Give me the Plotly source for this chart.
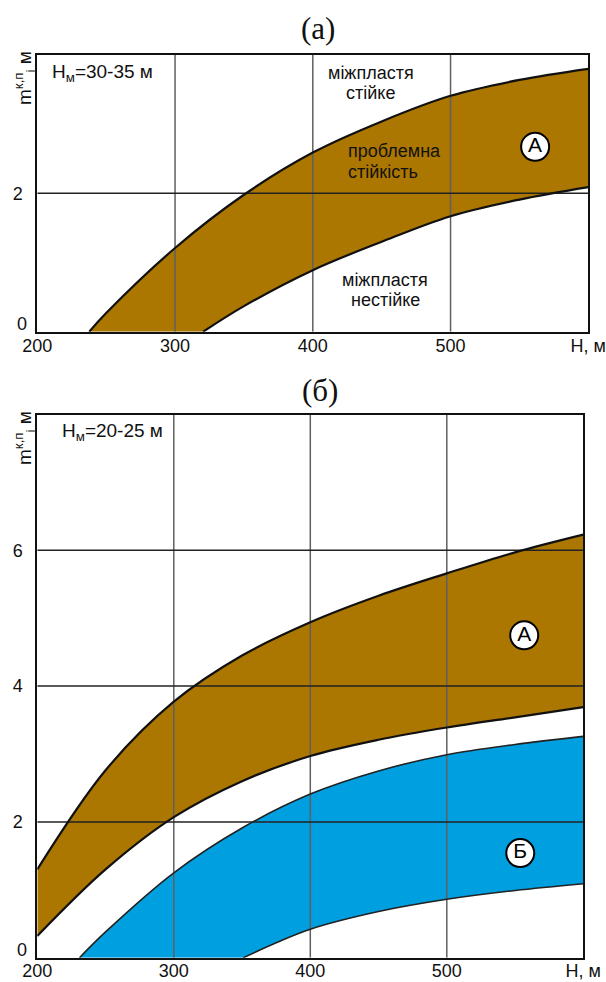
import plotly.graph_objects as go

# ---------------- data ----------------
# panel (a): H_m = 30-35 m
a_upper_h = [237.7, 250, 300, 350, 400, 450, 500, 550, 600]
a_upper_m = [0, 0.27, 1.21, 1.98, 2.59, 3.04, 3.41, 3.64, 3.80]
a_lower_h = [320.4, 350, 400, 450, 500, 550, 600]
a_lower_m = [0, 0.37, 0.89, 1.30, 1.67, 1.91, 2.09]

# panel (b): H_m = 20-25 m
b_A_upper_h = [200, 250, 300, 350, 400, 450, 500, 550, 600]
b_A_upper_m = [1.30, 2.76, 3.77, 4.45, 4.94, 5.33, 5.66, 5.97, 6.23]
b_A_lower_h = [200, 250, 300, 350, 400, 450, 500, 550, 600]
b_A_lower_m = [0.32, 1.30, 2.07, 2.60, 2.97, 3.21, 3.39, 3.54, 3.69]
b_B_upper_h = [230.9, 250, 300, 350, 400, 450, 500, 550, 600]
b_B_upper_m = [0, 0.38, 1.25, 1.91, 2.41, 2.75, 2.99, 3.14, 3.26]
b_B_lower_h = [351, 375, 400, 450, 500, 550, 600]
b_B_lower_m = [0, 0.22, 0.42, 0.68, 0.86, 0.99, 1.09]

x_range = [200, 600]
a_y_range = [0, 4]
b_y_range = [0, 8]
x_tickvals = [200, 300, 400, 500, 600]
x_ticktext = ["200", "300", "400", "500", "H, м"]
x_grid = [300, 400, 500]
a_y_ticks = [2]
a_y_grid = [2]
b_y_ticks = [2, 4, 6]
b_y_grid = [2, 4, 6]

# zone labels (panel a)
a_zone_text = ["міжпластя", "стійке", "міжпластя", "нестійке"]
a_zone_h = [442.0, 442.0, 452.5, 452.5]
a_zone_m = [3.734, 3.445, 0.747, 0.458]
a_mid_text = ["проблемна", "стійкість"]
a_mid_h = [424.0, 424.0]
a_mid_m = [2.616, 2.312]

# circled markers
a_circle_text = ["А"]
a_circle_h = [561.4]
a_circle_m = [2.673]
b_circle_text = ["А", "Б"]
b_circle_h = [556.7, 553.8]
b_circle_m = [4.748, 1.541]

BROWN = "#AC7700"
BLUE = "#009FE0"
FONT = "Liberation Sans, Arial, sans-serif"
SERIF = "Liberation Serif, Times New Roman, serif"

fig = go.Figure()


def band(xl, yl, xu, yu, color, xa, ya):
    fig.add_trace(go.Scatter(x=xl, y=yl, mode="lines", line=dict(width=0, shape="spline"),
                             xaxis=xa, yaxis=ya, showlegend=False, hoverinfo="skip"))
    fig.add_trace(go.Scatter(x=xu, y=yu, mode="lines", line=dict(width=0, shape="spline"),
                             fill="tonexty", fillcolor=color,
                             xaxis=xa, yaxis=ya, showlegend=False, hoverinfo="skip"))


def grid(xa, ya, yr, ygrid):
    gx, gy = [], []
    for v in x_grid:
        gx += [v, v, None]
        gy += [yr[0], yr[1], None]
    fig.add_trace(go.Scatter(x=gx, y=gy, mode="lines", line=dict(color="#606060", width=1.5),
                             xaxis=xa, yaxis=ya, showlegend=False, hoverinfo="skip"))
    hx, hy = [], []
    for v in ygrid:
        hx += [x_range[0], x_range[1], None]
        hy += [v, v, None]
    fig.add_trace(go.Scatter(x=hx, y=hy, mode="lines", line=dict(color="#222222", width=1.5),
                             xaxis=xa, yaxis=ya, showlegend=False, hoverinfo="skip"))


def edge(x, y, xa, ya, w=2.2, c="#111111"):
    fig.add_trace(go.Scatter(x=x, y=y, mode="lines", line=dict(color=c, width=w, shape="spline"),
                             xaxis=xa, yaxis=ya, showlegend=False, hoverinfo="skip"))


def circles(x, y, t, xa, ya):
    fig.add_trace(go.Scatter(x=x, y=y, mode="markers+text", text=t, textposition="middle center",
                             textfont=dict(family=FONT, size=21, color="black"),
                             marker=dict(size=28, color="white", line=dict(color="black", width=2)),
                             xaxis=xa, yaxis=ya, showlegend=False, hoverinfo="skip"))


# panel (a)
band(a_lower_h, a_lower_m, a_upper_h, a_upper_m, BROWN, "x", "y")
grid("x", "y", a_y_range, a_y_grid)
edge(a_upper_h, a_upper_m, "x", "y")
edge(a_lower_h, a_lower_m, "x", "y")
circles(a_circle_h, a_circle_m, a_circle_text, "x", "y")

# panel (b)
band(b_A_lower_h, b_A_lower_m, b_A_upper_h, b_A_upper_m, BROWN, "x2", "y2")
band(b_B_lower_h, b_B_lower_m, b_B_upper_h, b_B_upper_m, BLUE, "x2", "y2")
grid("x2", "y2", b_y_range, b_y_grid)
edge(b_A_upper_h, b_A_upper_m, "x2", "y2")
edge(b_A_lower_h, b_A_lower_m, "x2", "y2")
edge(b_B_upper_h, b_B_upper_m, "x2", "y2", w=1.6, c="#222222")
edge(b_B_lower_h, b_B_lower_m, "x2", "y2", w=1.6, c="#222222")
circles(b_circle_h, b_circle_m, b_circle_text, "x2", "y2")

W, H = 606, 982
axis_common = dict(showgrid=False, zeroline=False, showline=True, mirror=True, automargin=False,
                   linecolor="#111111", linewidth=2, ticks="",
                   tickfont=dict(family=FONT, size=18, color="#111111"))

fig.update_layout(
    template="none",
    width=W, height=H, margin=dict(l=0, r=0, t=0, b=0, pad=0), autosize=False,
    paper_bgcolor="white", plot_bgcolor="white",
    xaxis=dict(axis_common, domain=[37.3 / W, 588.3 / W], range=x_range,
               tickvals=x_tickvals, ticktext=x_ticktext, anchor="y", ticklabelstandoff=-3),
    yaxis=dict(axis_common, domain=[1 - 331.7 / H, 1 - 55 / H], range=a_y_range,
               tickvals=a_y_ticks, anchor="x", ticklabelstandoff=9),
    xaxis2=dict(axis_common, domain=[37.3 / W, 583.3 / W], range=x_range,
                tickvals=x_tickvals, ticktext=x_ticktext, anchor="y2", ticklabelstandoff=-4),
    yaxis2=dict(axis_common, domain=[1 - 957.7 / H, 1 - 414.5 / H], range=b_y_range,
                tickvals=b_y_ticks, anchor="x2", ticklabelstandoff=9),
)

ann = []
for t, hx, my in zip(a_zone_text, a_zone_h, a_zone_m):
    ann.append(dict(x=hx, y=my, xref="x", yref="y", text=t, showarrow=False,
                    xanchor="center", yanchor="middle",
                    font=dict(family=FONT, size=18, color="#111111")))
for t, hx, my in zip(a_mid_text, a_mid_h, a_mid_m):
    ann.append(dict(x=hx, y=my, xref="x", yref="y", text=t, showarrow=False,
                    xanchor="left", yanchor="middle",
                    font=dict(family=FONT, size=18, color="#111111")))
ann.append(dict(x=209.2, y=3.74, xref="x", yref="y", xanchor="left", yanchor="middle", showarrow=False,
                text="H<sub>м</sub>=30-35 м", font=dict(family=FONT, size=19, color="#111111")))
ann.append(dict(x=216.6, y=7.745, xref="x2", yref="y2", xanchor="left", yanchor="middle", showarrow=False,
                text="H<sub>м</sub>=20-25 м", font=dict(family=FONT, size=19, color="#111111")))
ann.append(dict(x=318 / W, y=1 - 28 / H, xref="paper", yref="paper", showarrow=False,
                xanchor="center", yanchor="middle",
                text="(а)", font=dict(family=SERIF, size=31, color="#111111")))
ann.append(dict(x=320 / W, y=1 - 390 / H, xref="paper", yref="paper", showarrow=False,
                xanchor="center", yanchor="middle",
                text="(б)", font=dict(family=SERIF, size=31, color="#111111")))
for yy in [1 - 78 / H, 1 - 438 / H]:
    ann.append(dict(x=24 / W, y=yy, xref="paper", yref="paper", showarrow=False, textangle=-90,
                    xanchor="center", yanchor="middle",
                    text="m<sup>к,п</sup><sub>і</sub> м", font=dict(family=FONT, size=19, color="#111111")))
for yr in ["y", "y2"]:
    ann.append(dict(x=29 / W, y=0, xref="paper", yref=yr, xanchor="right", yanchor="middle",
                    yshift=8, showarrow=False,
                    text="0", font=dict(family=FONT, size=18, color="#111111")))
fig.update_layout(annotations=ann)

fig.write_html("out.html", config={"displayModeBar": False},
               post_script="document.body.style.margin='0';document.body.style.overflow='hidden';")
